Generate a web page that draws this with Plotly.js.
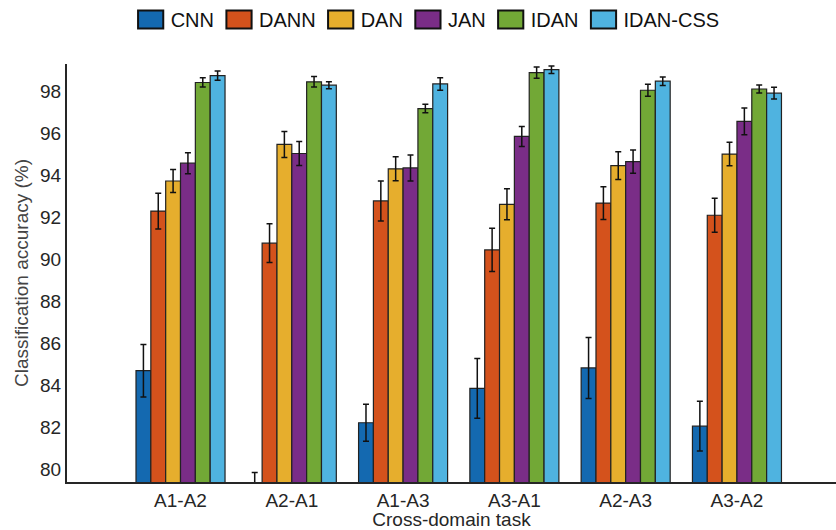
<!DOCTYPE html>
<html>
<head>
<meta charset="utf-8">
<script src="https://cdn.plot.ly/plotly-3.0.1.min.js"></script>
<style>html,body{margin:0;padding:0;background:#fff;}#chart{width:836px;height:530px;}</style>
</head>
<body>
<div id="chart"></div>
<script>
const tasks = ["A1-A2", "A2-A1", "A1-A3", "A3-A1", "A2-A3", "A3-A2"];
const yTicks = [80, 82, 84, 86, 88, 90, 92, 94, 96, 98];

const cnn      = [84.70, 79.20, 82.22, 83.86, 84.83, 82.06];
const cnnErr   = [1.25, 0.65, 0.88, 1.42, 1.45, 1.19];
const dann     = [92.30, 90.77, 92.78, 90.45, 92.68, 92.10];
const dannErr  = [0.85, 0.92, 0.95, 1.03, 0.78, 0.81];
const dan      = [93.73, 95.47, 94.31, 92.62, 94.46, 95.01];
const danErr   = [0.55, 0.62, 0.57, 0.74, 0.66, 0.56];
const jan      = [94.58, 95.04, 94.35, 95.85, 94.65, 96.57];
const janErr   = [0.50, 0.57, 0.62, 0.48, 0.55, 0.64];
const idan     = [98.42, 98.45, 97.18, 98.89, 98.05, 98.11];
const idanErr  = [0.22, 0.25, 0.20, 0.27, 0.28, 0.19];
const idanCss  = [98.75, 98.29, 98.35, 99.03, 98.48, 97.91];
const idanCssErr = [0.22, 0.17, 0.30, 0.18, 0.20, 0.28];

const seriesNames = ["CNN", "DANN", "DAN", "JAN", "IDAN", "IDAN-CSS"];
const seriesVals = [cnn, dann, dan, jan, idan, idanCss];
const seriesErrs = [cnnErr, dannErr, danErr, janErr, idanErr, idanCssErr];
const colors = ["#1469b0", "#d4521c", "#e6ae2d", "#7a2d87", "#72a836", "#4fb3e0"];

const FONT = "Liberation Sans, Arial, sans-serif";
const TXT = "#262626";

const traces = seriesNames.map((name, i) => ({
  type: "bar",
  name: name,
  x: tasks,
  y: seriesVals[i],
  error_y: { type: "data", array: seriesErrs[i], visible: true, color: "#111", thickness: 1.5, width: 3 },
  marker: { color: colors[i], line: { color: "#222", width: 1.2 } },
  hoverinfo: "x+y+name"
}));

const layout = {
  width: 836,
  height: 530,
  paper_bgcolor: "#fff",
  plot_bgcolor: "#fff",
  margin: { l: 67, r: 0, t: 62, b: 48, pad: 0 },
  barmode: "group",
  bargap: 0.2,
  bargroupgap: 0,
  font: { family: FONT, size: 20, color: TXT },
  showlegend: true,
  legend: {
    orientation: "h",
    x: 0.469, xanchor: "center",
    y: 1.107, yanchor: "middle",
    font: { family: FONT, size: 20, color: "#111" },
    itemwidth: 30,
    traceorder: "normal",
    bgcolor: "rgba(0,0,0,0)"
  },
  xaxis: {
    type: "category",
    range: [-1.02, 5.89],
    showline: true, linecolor: TXT, linewidth: 2,
    showgrid: false, zeroline: false,
    ticks: "",
    tickfont: { family: FONT, size: 19, color: TXT },
    title: { text: "Cross-domain task", font: { family: FONT, size: 19, color: TXT }, standoff: 3 },
    automargin: false,
    fixedrange: true
  },
  yaxis: {
    range: [79.4, 99.3],
    tickvals: yTicks,
    ticktext: yTicks.map(String),
    showline: true, linecolor: TXT, linewidth: 2,
    showgrid: false, zeroline: false,
    ticks: "",
    tickfont: { family: FONT, size: 19, color: TXT },
    title: { text: "Classification accuracy (%)", font: { family: FONT, size: 19, color: "#444" }, standoff: 6 },
    automargin: false,
    fixedrange: true
  }
};

Plotly.newPlot("chart", traces, layout, { displayModeBar: false, staticPlot: true }).then(function (gd) {
  // enlarge legend swatches to resemble the reference's wide boxed keys
  gd.querySelectorAll(".legend .legendpoints path").forEach(function (p) {
    const t = p.getAttribute("transform") || "";
    p.setAttribute("transform", t + " scale(2.1,1.5)");
    p.setAttribute("vector-effect", "non-scaling-stroke");
    p.style.strokeWidth = "2px";
    p.style.stroke = "#111";
  });
});
</script>
</body>
</html>
